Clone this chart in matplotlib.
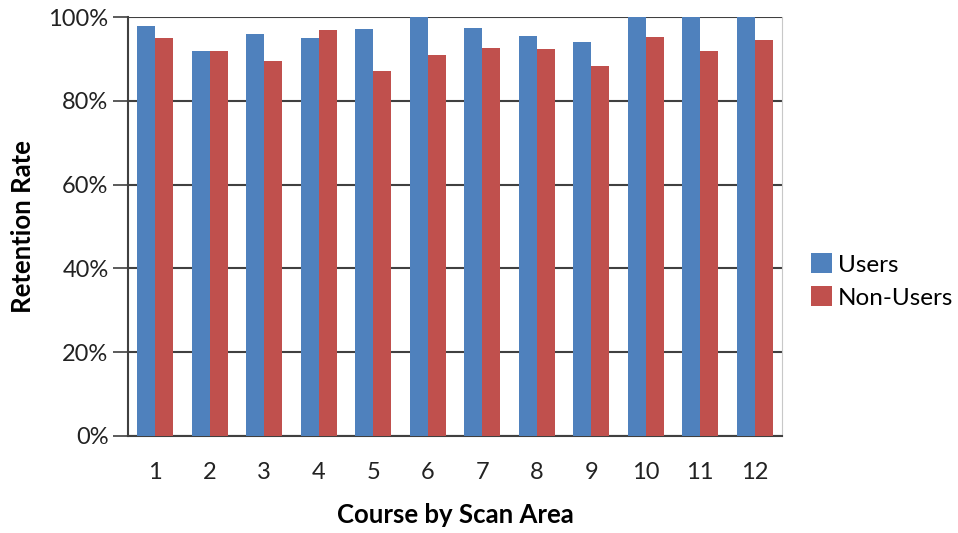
import matplotlib.pyplot as plt
import numpy as np
from matplotlib.ticker import PercentFormatter

courses = [str(i) for i in range(1, 13)]
users = [97.8, 91.8, 95.9, 95.1, 97.2, 100.0, 97.3, 95.5, 94.0, 100.0, 100.0, 100.0]
non_users = [95.0, 91.9, 89.4, 97.0, 87.1, 90.9, 92.6, 92.3, 88.2, 95.3, 91.8, 94.4]

plt.rcParams["font.family"] = ["Lato", "DejaVu Sans"]

fig = plt.figure(figsize=(9.58, 5.33), dpi=100)
ax = fig.add_axes([128 / 958, 97 / 533, 654 / 958, 419 / 533])

x = np.arange(len(courses))
width = 0.33
ax.bar(x - width / 2, users, width, color="#4F81BD", label="Users", zorder=3)
ax.bar(x + width / 2, non_users, width, color="#C0504D", label="Non-Users", zorder=3)

ax.set_xlim(-0.5, len(courses) - 0.5)
ax.set_ylim(0, 100)
ax.set_yticks(np.arange(0, 101, 20))
ax.yaxis.set_major_formatter(PercentFormatter(decimals=0))
ax.set_xticks(x)
ax.set_xticklabels(courses)
ax.yaxis.grid(True, color="#404040", linewidth=1.5, zorder=0)

ax.tick_params(axis="x", length=0, labelsize=17, pad=19, labelcolor="#222222")
ax.tick_params(axis="y", length=11, width=1.2, color="#404040", labelsize=17,
               pad=3, labelcolor="#222222")
ax.spines["top"].set_visible(False)
ax.spines["right"].set_color("#c8c8c8")
for side in ["left", "bottom"]:
    ax.spines[side].set_color("#404040")
    ax.spines[side].set_linewidth(1.5)

ax.set_xlabel("Course by Scan Area", fontsize=18.5, fontweight="bold", labelpad=14)
ax.set_ylabel("Retention Rate", fontsize=18.5, fontweight="bold", labelpad=10)

ax.legend(loc="center left", bbox_to_anchor=(1.045, 0.37), frameon=False,
          fontsize=17.5, handlelength=0.85, handleheight=0.85, handletextpad=0.25,
          labelspacing=0.45, borderpad=0, borderaxespad=0)

fig.savefig("out.png", dpi=100)
